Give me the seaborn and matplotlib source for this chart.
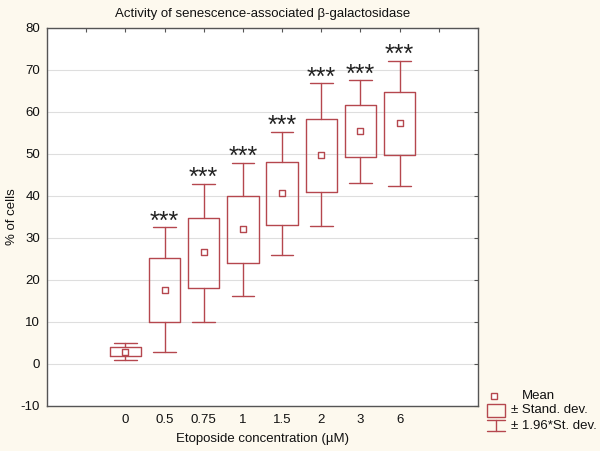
import matplotlib
matplotlib.use("Agg")
import matplotlib.pyplot as plt
import seaborn as sns
import pandas as pd

# values (% of cells)
conc = ['0', '0.5', '0.75', '1', '1.5', '2', '3', '6']
mean = [2.9, 17.6, 26.5, 32.1, 40.7, 49.8, 55.3, 57.4]
sd_lo = [1.9, 9.9, 18.0, 24.0, 33.0, 41.0, 49.2, 49.6]
sd_hi = [3.9, 25.2, 34.8, 39.9, 48.0, 58.3, 61.5, 64.8]
ci_lo = [0.95, 2.8, 9.9, 16.2, 26.0, 32.7, 43.0, 42.4]
ci_hi = [4.9, 32.5, 42.9, 47.8, 55.2, 66.8, 67.5, 72.1]
signif = ['', '***', '***', '***', '***', '***', '***', '***']

red = '#b5474e'
bg = '#fdf9ee'

sns.set_style('white')
plt.rcParams['font.family'] = ['Liberation Sans', 'DejaVu Sans']
plt.rcParams['axes.unicode_minus'] = False

fig = plt.figure(figsize=(6, 4.51), dpi=100, facecolor=bg)
ax = fig.add_axes([0.0783, 0.1004, 0.7184, 0.8382])
ax.set_facecolor('white')

pos = list(range(1, len(conc) + 1))
stats = []
for i in range(len(conc)):
    stats.append({'med': mean[i], 'q1': sd_lo[i], 'q3': sd_hi[i],
                  'whislo': ci_lo[i], 'whishi': ci_hi[i], 'fliers': []})

lp = dict(color=red, linewidth=1.0)
ax.bxp(stats, positions=pos, widths=0.8, showfliers=False,
       boxprops=lp, whiskerprops=lp, capprops=lp,
       medianprops=dict(linewidth=0), capwidths=0.58)

df = pd.DataFrame({'pos': pos, 'mean': mean})
sns.scatterplot(data=df, x='pos', y='mean', marker='s', s=22,
                facecolor='white', edgecolor=red, linewidth=1.0,
                ax=ax, zorder=5, legend=False)

for p, top, s in zip(pos, ci_hi, signif):
    if s:
        ax.annotate(s, (p, top), xytext=(0, -4.5), textcoords='offset points',
                    ha='center', va='bottom', fontsize=18, color='#222222')

ax.set_xlim(-1, 10)
ax.set_ylim(-10, 80)
ax.set_xticks(range(0, 10))
ax.set_xticklabels([''] + conc + [''])
ax.set_yticks(range(-10, 81, 10))
ax.yaxis.grid(True, color='#dedede', linewidth=0.8)
ax.set_axisbelow(True)
ax.tick_params(direction='in', length=3, color='#555555', labelsize=9.5,
               top=True, right=True, labelcolor='#111111')
ax.tick_params(axis='x', pad=6)
ax.tick_params(axis='y', pad=5)
for sp in ax.spines.values():
    sp.set_color('#555555')
    sp.set_linewidth(1.0)

ax.set_xlabel('Etoposide concentration (µM)', fontsize=9.5, labelpad=5, color='#111111')
ax.set_ylabel('% of cells', fontsize=9.5, labelpad=2, color='#111111')
ax.set_title('Activity of senescence-associated β-galactosidase', fontsize=9.5,
             pad=8, color='#111111')

# legend drawn by hand, in figure pixels
lg = fig.add_axes([0, 0, 1, 1])
lg.set_xlim(0, 600)
lg.set_ylim(451, 0)
lg.axis('off')
lg.patch.set_alpha(0)
lg.plot([494], [396], marker='s', ms=4.5, mfc='white', mec=red, mew=1.0)
lg.add_patch(plt.Rectangle((487, 404), 18, 12.5, fill=False, ec=red, lw=1.0))
lg.plot([487, 505], [420, 420], color=red, lw=1.0)
lg.plot([496, 496], [420, 431], color=red, lw=1.0)
lg.plot([487, 505], [431, 431], color=red, lw=1.0)
lg.text(522, 396, 'Mean', va='center', fontsize=9.5, color='#111111')
lg.text(511, 410, '± Stand. dev.', va='center', fontsize=9.5, color='#111111')
lg.text(511, 426, '± 1.96*St. dev.', va='center', fontsize=9.5, color='#111111')

fig.savefig('out.png', dpi=100, facecolor=bg)
